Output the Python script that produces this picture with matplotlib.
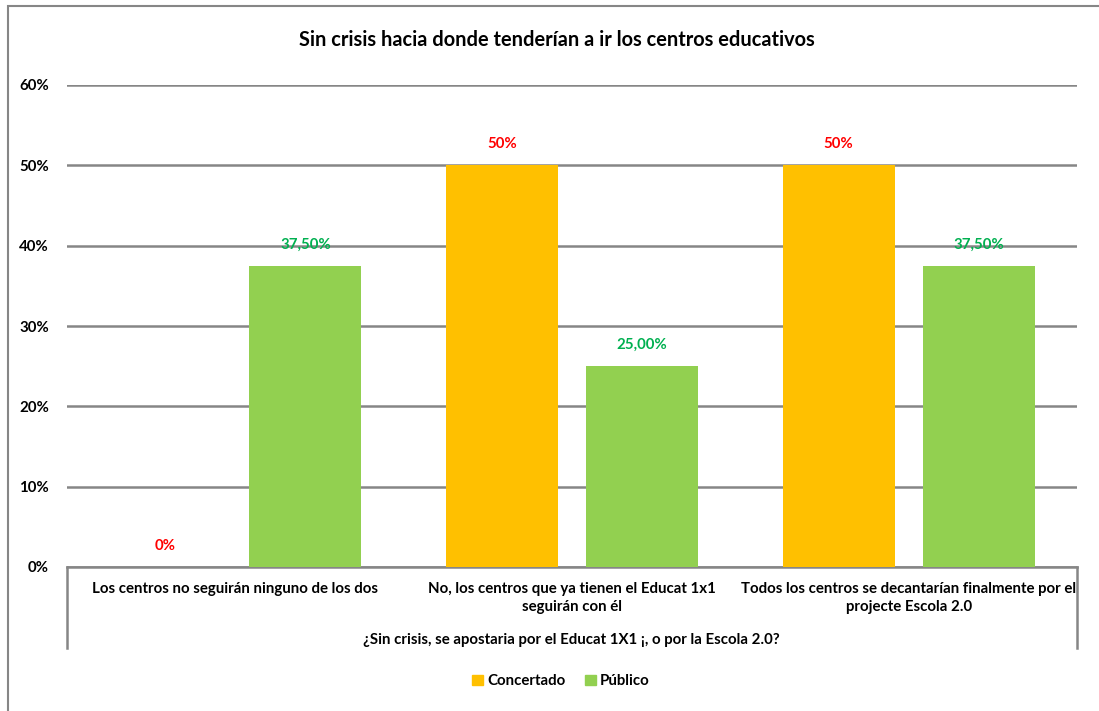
import matplotlib
matplotlib.use('AGG')
import numpy as np
import matplotlib.pyplot as plt
from matplotlib.lines import Line2D
from matplotlib.patches import Rectangle, Patch

categories = [
    "Los centros no seguirán ninguno de los dos",
    "No, los centros que ya tienen el Educat 1x1\nseguirán con él",
    "Todos los centros se decantarían finalmente por el\nprojecte Escola 2.0",
]
concertado = [0.0, 0.50, 0.50]
publico = [0.375, 0.25, 0.375]
concertado_labels = ["0%", "50%", "50%"]
publico_labels = ["37,50%", "25,00%", "37,50%"]
yticks = [0, 0.1, 0.2, 0.3, 0.4, 0.5, 0.6]
ytick_labels = ["0%", "10%", "20%", "30%", "40%", "50%", "60%"]

plt.rcParams['font.family'] = ['Lato', 'DejaVu Sans']
plt.rcParams['font.weight'] = 'bold'

W, H = 1099, 711
FS = 10.8
fig = plt.figure(figsize=(W / 100, H / 100), dpi=100)


def fx(px):
    return px / W


def fy(py):
    return 1 - py / H


ax = fig.add_axes([fx(67), fy(567), fx(1077) - fx(67), fy(85) - fy(567)])

x = np.arange(len(categories))
bw = 0.333
off = 0.208
bars_c = ax.bar(x - off, concertado, bw, color='#FFC000', label='Concertado', zorder=3)
bars_p = ax.bar(x + off, publico, bw, color='#92D050', label='Público', zorder=3)

for b, lab in zip(bars_c, concertado_labels):
    ax.annotate(lab, (b.get_x() + b.get_width() / 2, b.get_height()), xytext=(0, 21),
                textcoords='offset pixels', ha='center', va='center',
                color='#FF0000', fontsize=FS, fontweight='bold', zorder=4)
for b, lab in zip(bars_p, publico_labels):
    ax.annotate(lab, (b.get_x() + b.get_width() / 2, b.get_height()), xytext=(0, 21),
                textcoords='offset pixels', ha='center', va='center',
                color='#00B050', fontsize=FS, fontweight='bold', zorder=4)

ax.set_xlim(-0.5, 2.5)
ax.set_ylim(0, 0.6)
ax.set_yticks(yticks)
ax.set_yticklabels(ytick_labels, fontsize=FS, fontweight='bold')
ax.tick_params(axis='y', length=0, pad=13)
ax.set_xticks(x)
ax.set_xticklabels(categories, fontsize=FS, fontweight='bold', linespacing=1.3, va='top')
ax.tick_params(axis='x', length=0, pad=11)
ax.grid(axis='y', color='#868686', linewidth=1.8, zorder=0)
for s in ['top', 'right', 'left']:
    ax.spines[s].set_visible(False)
ax.spines['bottom'].set_color('#868686')
ax.spines['bottom'].set_linewidth(1.8)

# category axis box
for px in (67, 1077):
    fig.add_artist(Line2D([fx(px), fx(px)], [fy(567), fy(648)], color='#868686', linewidth=1.8))

fig.text(fx(571), fy(640), "¿Sin crisis, se apostaria por el Educat 1X1 ¡, o por la Escola 2.0?",
         ha='center', va='center', fontsize=FS, fontweight='bold')

fig.text(fx(557), fy(40), "Sin crisis hacia donde tenderían a ir los centros educativos",
         ha='center', va='center', fontsize=14.4, fontweight='bold')

# chart border
fig.add_artist(Rectangle((fx(8), fy(720)), fx(1100), fy(6) - fy(720), fill=False,
                         edgecolor='#868686', linewidth=1.5))

handles = [Patch(color='#FFC000', label='Concertado'), Patch(color='#92D050', label='Público')]
fig.legend(handles=handles, loc='center', bbox_to_anchor=(fx(561), fy(681)), ncol=2,
           frameon=False, handlelength=0.7, handleheight=0.7, handletextpad=0.3,
           columnspacing=1.3, prop={'size': FS, 'weight': 'bold'})

plt.savefig('out.png', dpi=100)
